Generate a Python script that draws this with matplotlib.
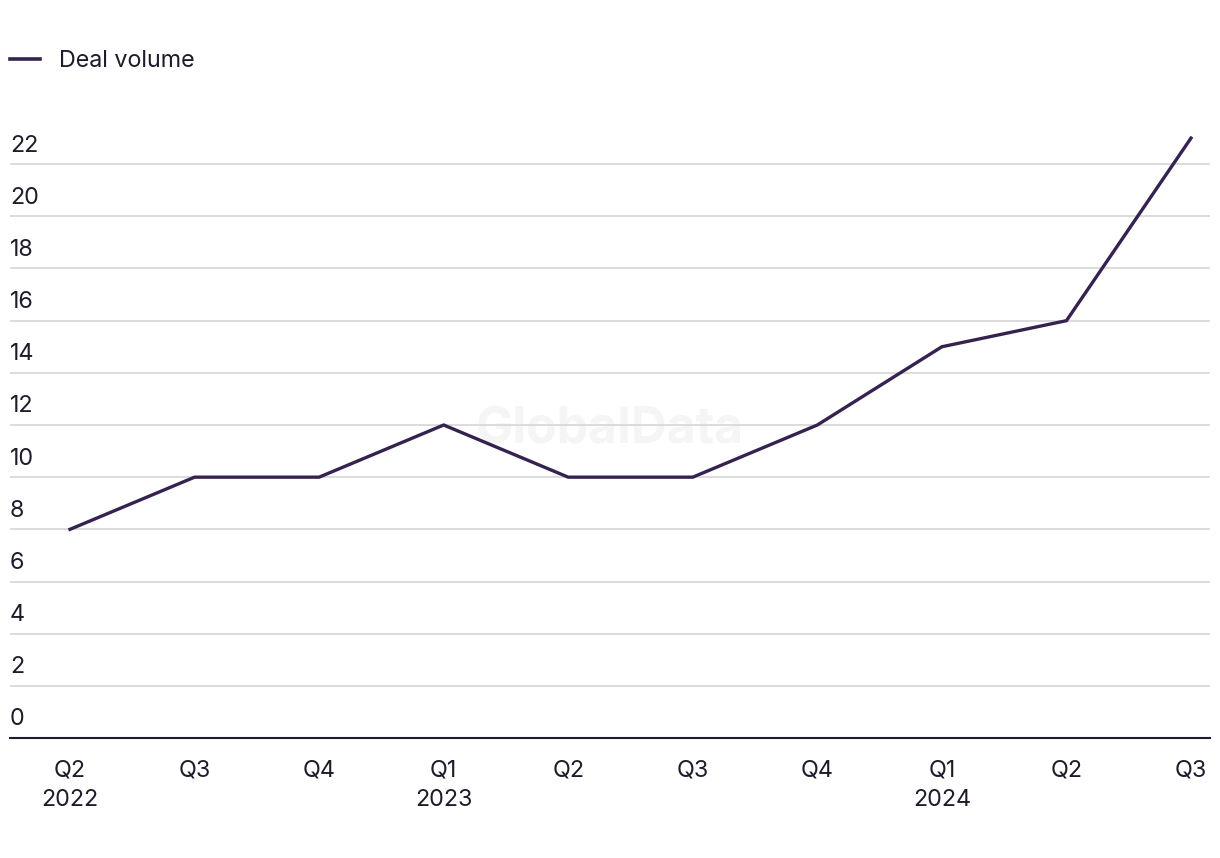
import matplotlib.pyplot as plt
from matplotlib.lines import Line2D

plt.rcParams['font.family'] = ['Inter', 'DejaVu Sans']

# Data
quarters = ['Q2\n2022', 'Q3', 'Q4', 'Q1\n2023', 'Q2', 'Q3', 'Q4', 'Q1\n2024', 'Q2', 'Q3']
deal_volume = [8, 10, 10, 12, 10, 10, 12, 15, 16, 23]
y_ticks = [0, 2, 4, 6, 8, 10, 12, 14, 16, 18, 20, 22]

line_color = '#35224f'
text_color = '#1c1c2b'
fs = 16.8

fig = plt.figure(figsize=(12.2, 8.58), dpi=100)
ax = fig.add_axes([10 / 1220, 120 / 858, 1200 / 1220, 626 / 858])

x = list(range(len(quarters)))
ax.plot(x, deal_volume, color=line_color, linewidth=2.4, solid_joinstyle='miter', zorder=3)

ax.set_xlim(-0.4817, 9.1525)
ax.set_ylim(0, 24)

# gridlines + y labels drawn above each line
for v in y_ticks:
    if v > 0:
        ax.axhline(v, color='#d9d9d9', linewidth=1.3, zorder=1)
    ax.annotate(str(v), xy=(0, v), xycoords=ax.get_yaxis_transform(),
                xytext=(0, 5.5), textcoords='offset points',
                ha='left', va='bottom', fontsize=fs, color=text_color)

ax.set_yticks([])
ax.set_xticks(x)
ax.set_xticklabels(quarters, fontsize=fs, color=text_color, linespacing=1.45)
ax.tick_params(axis='x', length=0, pad=15.5)

for s in ['top', 'right', 'left']:
    ax.spines[s].set_visible(False)
ax.spines['bottom'].set_color(text_color)
ax.spines['bottom'].set_linewidth(1.5)

# watermark
ax.text(0.5, 0.492, 'GlobalData', transform=ax.transAxes, ha='center', va='center',
        fontsize=36, fontweight='bold', color='#f5f5f5', zorder=0)

# legend
handle = Line2D([], [], color=line_color, linewidth=2.6)
fig.legend([handle], ['Deal volume'], loc='center left', bbox_to_anchor=(10 / 1220, 1 - 61 / 858),
           frameon=False, fontsize=fs, handlelength=1.3, handletextpad=0.8,
           borderaxespad=0, borderpad=0, labelcolor=text_color)

fig.savefig('out.png', dpi=100)
